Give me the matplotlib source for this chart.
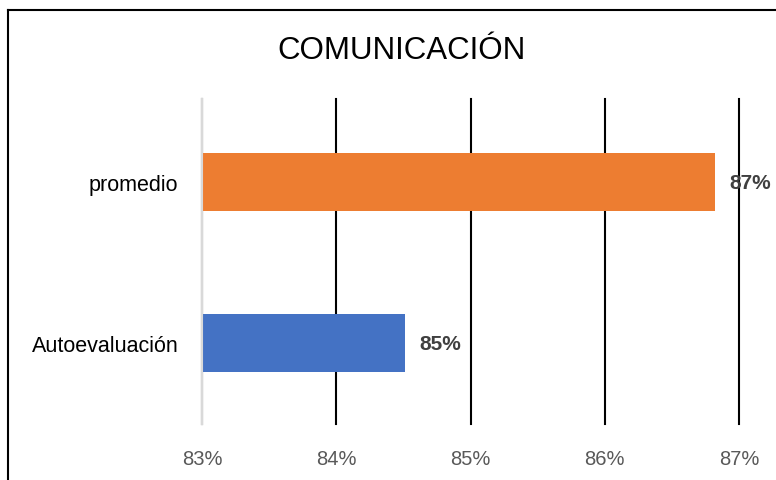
import matplotlib.pyplot as plt
from matplotlib.lines import Line2D

categories = ["Autoevaluación", "promedio"]
values = [84.51, 86.82]
colors = ["#4472C4", "#ED7D31"]
ticks = [83, 84, 85, 86, 87]

plt.rcParams["font.family"] = ["Liberation Sans", "DejaVu Sans"]

fig = plt.figure(figsize=(7.76, 4.81), dpi=100)
W, H = 776, 481
ax = fig.add_axes([202 / W, 1 - 425 / H, (739 - 202) / W, (425 - 100) / H])

ax.barh(categories, [v - 83 for v in values], left=83, height=0.36,
        color=colors, zorder=3)
for i, v in enumerate(values):
    ax.text(v + 0.11, i, f"{v:.0f}%", va="center", ha="left",
            fontsize=15, fontweight="bold", color="#404040", zorder=4)

ax.set_xlim(83, 87)
ax.set_ylim(-0.503, 1.516)
ax.set_xticks(ticks)
ax.set_xticklabels([f"{t}%" for t in ticks], color="#595959", fontsize=14.5)
ax.tick_params(axis="x", length=0, pad=18)
ax.tick_params(axis="y", length=0, pad=17, labelsize=15.5, labelcolor="black")
ax.xaxis.grid(True, color="black", linewidth=1.5, zorder=0)
for gl in ax.get_xgridlines():
    gl.set_clip_on(False)
for s in ["top", "right", "bottom"]:
    ax.spines[s].set_visible(False)
ax.spines["left"].set_color("#D9D9D9")
ax.spines["left"].set_linewidth(1.5)
ax.spines["left"].set_zorder(5)

fig.text(401 / W, 1 - 51 / H, "COMUNICACIÓN", ha="center", va="center",
         fontsize=22.5, color="black")

# outer chart frame (only top and left edges visible)
fig.add_artist(Line2D([8 / W, 1], [1 - 11 / H, 1 - 11 / H], color="black",
                      linewidth=1.5, transform=fig.transFigure))
fig.add_artist(Line2D([8 / W, 8 / W], [0, 1 - 11 / H], color="black",
                      linewidth=1.5, transform=fig.transFigure))

fig.savefig("out.png", dpi=100)
